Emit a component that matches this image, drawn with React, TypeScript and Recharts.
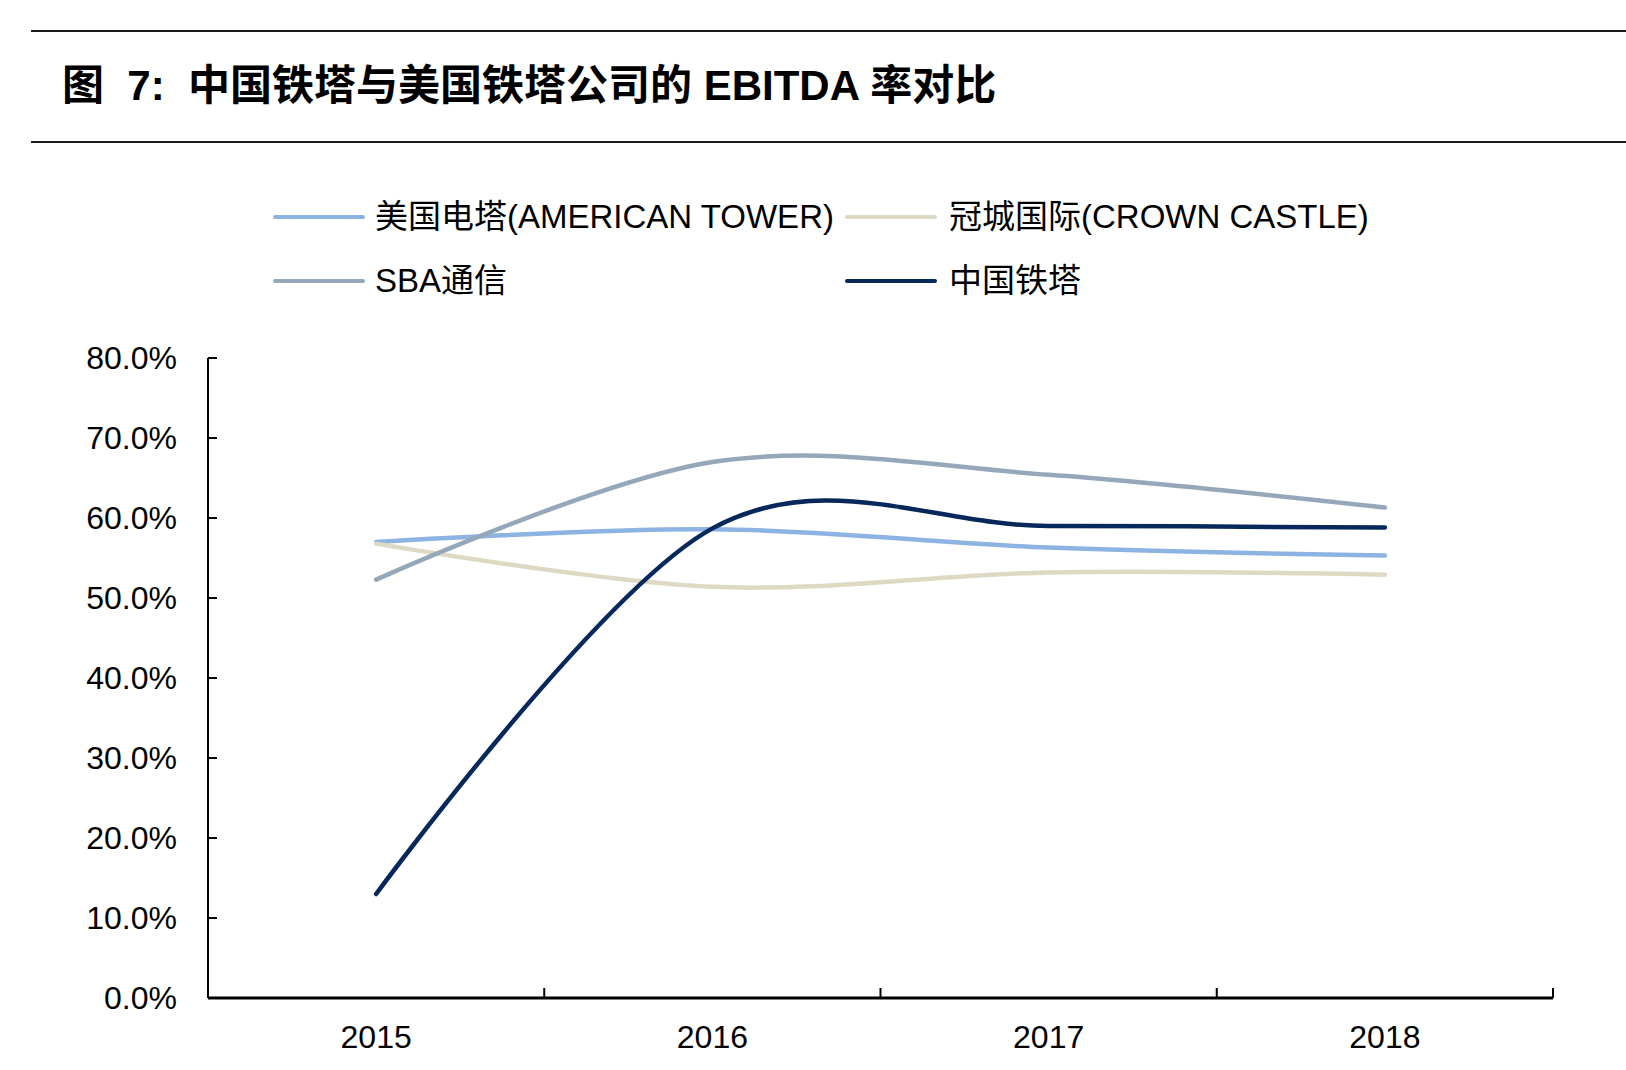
import React from 'react';
import { LineChart, Line, XAxis, YAxis } from 'recharts';

// ---- data ----
const years = ['2015', '2016', '2017', '2018'];
const americanTower = [57.0, 58.6, 56.3, 55.3];
const crownCastle = [56.8, 51.4, 53.2, 52.9];
const sbaComm = [52.3, 67.0, 65.4, 61.3];
const chinaTower = [13.0, 58.7, 59.0, 58.8];
const yTicks = [0, 10, 20, 30, 40, 50, 60, 70, 80];
const seriesKeys = ['americanTower', 'crownCastle', 'sbaComm', 'chinaTower'];
const seriesNames = ['美国电塔(AMERICAN TOWER)', '冠城国际(CROWN CASTLE)', 'SBA通信', '中国铁塔'];
const seriesColors = ['#8DB3E2', '#DDD9C3', '#95A8BA', '#06285A'];
const titleText = '图  7:  中国铁塔与美国铁塔公司的 EBITDA 率对比';

const data = years.map((year, i) => ({
  year,
  americanTower: americanTower[i],
  crownCastle: crownCastle[i],
  sbaComm: sbaComm[i],
  chinaTower: chinaTower[i],
}));

// ---- layout ----
const W = 1626;
const H = 1070;
const PLOT_LEFT = 208;
const PLOT_RIGHT = 1553;
const PLOT_TOP = 358;
const PLOT_BOTTOM = 998;
const HALF_BAND = (PLOT_RIGHT - PLOT_LEFT) / (years.length * 2);
const FONT = '"Liberation Sans", Arial, "Noto Sans CJK SC", sans-serif';

// Catmull-Rom (cardinal, tension 0) curve factory, like Excel's smoothed line
const catmullRom = (context: any) => {
  let x0 = NaN, y0 = NaN, x1 = NaN, y1 = NaN, x2 = NaN, y2 = NaN;
  let pt = 0;
  let line: number = NaN;
  const k = 1 / 6;
  const emit = (x: number, y: number) => {
    context.bezierCurveTo(
      x1 + k * (x2 - x0),
      y1 + k * (y2 - y0),
      x2 + k * (x1 - x),
      y2 + k * (y1 - y),
      x2,
      y2
    );
  };
  return {
    areaStart() { line = 0; },
    areaEnd() { line = NaN; },
    lineStart() {
      x0 = x1 = x2 = y0 = y1 = y2 = NaN;
      pt = 0;
    },
    lineEnd() {
      if (pt === 2) context.lineTo(x2, y2);
      else if (pt === 3) emit(x1, y1);
      if (line || (line !== 0 && pt === 1)) context.closePath();
      line = 1 - line;
    },
    point(xIn: number, yIn: number) {
      const x = +xIn;
      const y = +yIn;
      if (pt === 0) {
        pt = 1;
        if (line) context.lineTo(x, y); else context.moveTo(x, y);
      } else if (pt === 1) {
        pt = 2;
        x1 = x; y1 = y;
      } else {
        pt = 3;
        emit(x, y);
      }
      x0 = x1; x1 = x2; x2 = x;
      y0 = y1; y1 = y2; y2 = y;
    },
  };
};

const XTick = (props: any) => {
  const { x, payload } = props;
  return (
    <g>
      <line x1={x + HALF_BAND} x2={x + HALF_BAND} y1={PLOT_BOTTOM} y2={PLOT_BOTTOM - 10} stroke="#000" strokeWidth={2} />
      <text x={x} y={1036.5} dy="0.358em" textAnchor="middle" fontSize={32} fontFamily={FONT} fill="#000">
        {payload.value}
      </text>
    </g>
  );
};

const YTick = (props: any) => {
  const { y, payload } = props;
  return (
    <g>
      <line x1={PLOT_LEFT} x2={PLOT_LEFT + 9} y1={y} y2={y} stroke="#000" strokeWidth={2} />
      <text x={177} y={y} dy="0.358em" textAnchor="end" fontSize={32} fontFamily={FONT} fill="#000">
        {`${Number(payload.value).toFixed(1)}%`}
      </text>
    </g>
  );
};

const legendPos = [
  { lx: 273, tx: 375, cy: 217 },
  { lx: 845, tx: 949, cy: 217 },
  { lx: 273, tx: 375, cy: 281 },
  { lx: 845, tx: 949, cy: 281 },
];

export default function App() {
  return (
    <div style={{ position: 'relative', width: W, height: H, background: '#fff', overflow: 'hidden', fontFamily: FONT }}>
      <style>{'body{margin:0;}'}</style>
      <div style={{ position: 'absolute', left: 31, top: 30, width: W - 31, height: 2, background: '#1a1a1a' }} />
      <div
        style={{
          position: 'absolute',
          left: 62,
          top: 86 - 25,
          height: 50,
          lineHeight: '50px',
          fontSize: 42,
          fontWeight: 700,
          whiteSpace: 'pre',
          color: '#000',
          fontFamily: '"Liberation Sans", Arial, "Noto Sans CJK SC", sans-serif',
        }}
      >
        {titleText}
      </div>
      <div style={{ position: 'absolute', left: 31, top: 141, width: W - 31, height: 2, background: '#1a1a1a' }} />

      {seriesNames.map((name, i) => (
        <React.Fragment key={name}>
          <div
            style={{
              position: 'absolute',
              left: legendPos[i].lx,
              top: legendPos[i].cy - 2,
              width: 92,
              height: 4,
              borderRadius: 2,
              background: seriesColors[i],
            }}
          />
          <div
            style={{
              position: 'absolute',
              left: legendPos[i].tx,
              top: legendPos[i].cy - 20,
              height: 40,
              lineHeight: '40px',
              fontSize: 33,
              whiteSpace: 'pre',
              color: '#000',
            }}
          >
            {name}
          </div>
        </React.Fragment>
      ))}

      <div style={{ position: 'absolute', left: 0, top: 0 }}>
        <LineChart
          width={W}
          height={H}
          data={data}
          margin={{ top: PLOT_TOP, right: W - PLOT_RIGHT, bottom: 0, left: 0 }}
        >
          <XAxis
            dataKey="year"
            height={H - PLOT_BOTTOM}
            padding={{ left: HALF_BAND, right: HALF_BAND }}
            axisLine={{ stroke: '#000', strokeWidth: 3 }}
            tickLine={false}
            interval={0}
            tick={(p: any) => <XTick {...p} />}
          />
          <YAxis
            width={PLOT_LEFT}
            domain={[0, 80]}
            ticks={yTicks}
            interval={0}
            axisLine={{ stroke: '#000', strokeWidth: 2 }}
            tickLine={false}
            tick={(p: any) => <YTick {...p} />}
          />
          {seriesKeys.map((key, i) => (
            <Line
              key={key}
              dataKey={key}
              name={seriesNames[i]}
              type={catmullRom as any}
              stroke={seriesColors[i]}
              strokeWidth={4.5}
              strokeLinecap="round"
              dot={false}
              activeDot={false}
              isAnimationActive={false}
            />
          ))}
        </LineChart>
      </div>
    </div>
  );
}
